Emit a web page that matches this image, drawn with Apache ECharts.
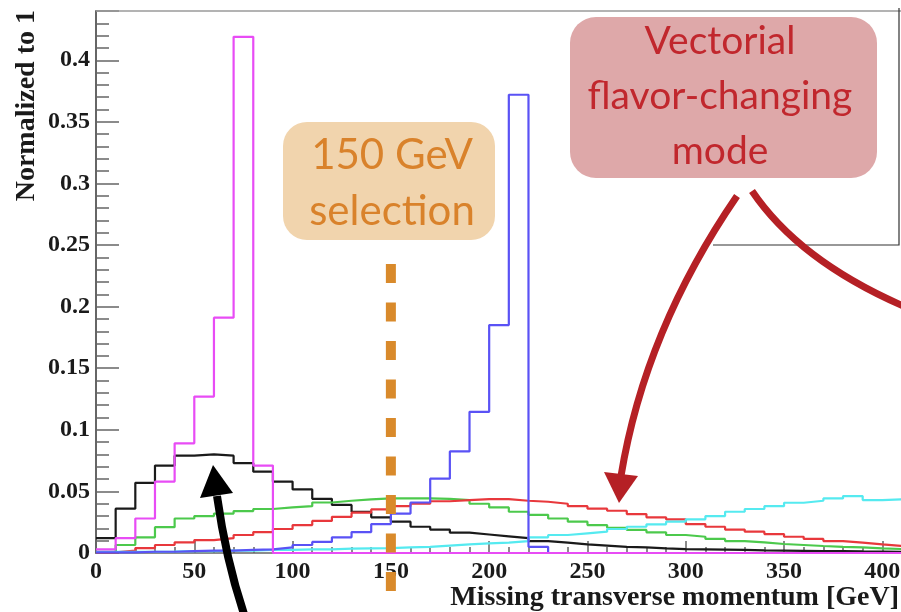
<!DOCTYPE html>
<html><head><meta charset="utf-8">
<script src="https://cdn.jsdelivr.net/npm/echarts@6/dist/echarts.min.js"></script>
<style>html,body{margin:0;padding:0;background:#fff}#c{width:901px;height:612px}</style>
</head><body><div id="c"></div>
<script>
// Bin low edges (GeV), bin width 10, last entry is the upper edge of the final bin
const binEdges = [0,10,20,30,40,50,60,70,80,90,100,110,120,130,140,150,160,170,180,190,200,
  210,220,230,240,250,260,270,280,290,300,310,320,330,340,350,360,370,380,390,400,410];

const xTicks = [0,50,100,150,200,250,300,350,400];
const yTicks = [0,0.05,0.1,0.15,0.2,0.25,0.3,0.35,0.4];

const blackVals = [0.012,0.036,0.057,0.071,0.079,0.080,0.079,0.073,0.066,0.058,
  0.0516,0.044,0.039,0.0335,0.029,0.0254,0.0213,0.019,0.0165,0.015,
  0.0135,0.012,0.0097,0.0084,0.007,0.006,0.005,0.0046,0.0038,0.0032,
  0.003,0.0028,0.0025,0.0022,0.002,0.0018,0.0016,0.0015,0.0013,0.0012,0.001];
const greenVals = [0.001,0.0065,0.0127,0.021,0.028,0.030,0.032,0.034,0.0357,0.037,
  0.038,0.041,0.0424,0.0435,0.0443,0.0443,0.0443,0.044,0.043,0.040,
  0.037,0.0335,0.031,0.028,0.0254,0.0227,0.0205,0.0187,0.0168,0.0146,
  0.0132,0.0114,0.0097,0.0087,0.0073,0.0065,0.0057,0.005,0.0046,0.0038,0.0032];
const redVals = [0.0005,0.002,0.004,0.0065,0.0087,0.0105,0.012,0.0146,0.017,0.0195,
  0.0227,0.026,0.0294,0.0327,0.0354,0.038,0.040,0.042,0.043,0.0438,
  0.0438,0.0424,0.0416,0.040,0.038,0.036,0.0343,0.0316,0.029,0.0273,
  0.0235,0.0213,0.019,0.0173,0.0154,0.0132,0.0114,0.0097,0.0084,0.007,0.0057];
const cyanVals = [0.001,0.001,0.001,0.0012,0.0015,0.0015,0.002,0.002,0.0025,0.0025,
  0.003,0.003,0.0035,0.0038,0.004,0.0045,0.005,0.006,0.007,0.0078,
  0.0085,0.0097,0.0127,0.0146,0.016,0.0173,0.0195,0.0213,0.0233,0.0254,
  0.0273,0.030,0.0335,0.0357,0.038,0.0408,0.0424,0.0443,0.0462,0.043,0.0435];
const blueVals = [0.0005,0.0005,0.001,0.001,0.0015,0.002,0.002,0.0025,0.003,0.0046,
  0.0065,0.009,0.0127,0.017,0.0235,0.032,0.041,0.0603,0.0825,0.1146,
  0.185,0.372,0.005,0,0,0,0,0,0,0,
  0,0,0,0,0,0,0,0,0,0,0];
const magentaVals = [0.003,0.012,0.028,0.058,0.089,0.127,0.191,0.419,0.071,0,
  0,0,0,0,0,0,0,0,0,0,
  0,0,0,0,0,0,0,0,0,0,
  0,0,0,0,0,0,0,0,0,0,0];

const selectionCut = 150;

function histPoints(vals){
  const pts = vals.map((v,i)=>[binEdges[i], v]);
  pts.push([binEdges[vals.length], vals[vals.length-1]]);
  return pts;
}
function hist(name, vals, color){
  return {name, type:'line', step:'end', data:histPoints(vals), showSymbol:false,
    symbol:'none', lineStyle:{color, width:2.2}, itemStyle:{color}, silent:true, z:3};
}

const chart = echarts.init(document.getElementById('c'), null, {renderer:'canvas'});
const serif = '"Liberation Serif","DejaVu Serif",serif';
const axisGray = '#666';

chart.setOption({
  animation:false,
  backgroundColor:'#fff',
  grid:{left:96, top:11, width:806, bottom:59, containLabel:false, outerBoundsMode:'none'},
  xAxis:{
    type:'value', min:0, max:410, interval:50,
    axisLine:{show:true, onZero:false, lineStyle:{color:axisGray, width:1.5}},
    axisTick:{show:true, inside:true, length:12, lineStyle:{color:axisGray, width:1.5}},
    minorTick:{show:true, splitNumber:5, length:6, lineStyle:{color:axisGray, width:1.5}},
    splitLine:{show:false},
    axisLabel:{fontFamily:serif, fontWeight:'bold', fontSize:24, color:'#1a1a1a', margin:7,
      showMaxLabel:false,
      formatter:v=> xTicks.indexOf(v)>=0 ? String(v) : ''}
  },
  yAxis:{
    type:'value', min:0, max:0.44, interval:0.05,
    axisLine:{show:true, lineStyle:{color:axisGray, width:2}},
    axisTick:{show:true, inside:true, length:23, lineStyle:{color:axisGray, width:1.5}},
    minorTick:{show:true, splitNumber:5, length:13, lineStyle:{color:axisGray, width:1.5}},
    splitLine:{show:false},
    axisLabel:{fontFamily:serif, fontWeight:'bold', fontSize:24, color:'#1a1a1a', margin:6,
      showMaxLabel:false,
      formatter:v=>{ const r = Math.round(v*100)/100; return yTicks.indexOf(r)>=0 ? String(r) : ''; }}
  },
  series:[
    hist('black', blackVals, '#1a1a1a'),
    hist('green', greenVals, '#4cc94c'),
    hist('red', redVals, '#e8383c'),
    hist('cyan', cyanVals, '#55eaf0'),
    hist('blue', blueVals, '#5a52f5'),
    hist('magenta', magentaVals, '#e84cf5')
  ]
});

const cutX = chart.convertToPixel({xAxisIndex:0}, selectionCut);

chart.setOption({
  graphic:[
    // top frame line
    {type:'line', z:2, shape:{x1:96, y1:11, x2:901, y2:11},
      style:{stroke:'#9a9a9a', lineWidth:1.5}},
    // axis titles
    {type:'text', x:27, y:10, rotation:Math.PI/2, z:10,
      style:{text:'Normalized to 1', fontFamily:serif, fontWeight:'bold', fontSize:28,
        fill:'#1a1a1a', align:'right', verticalAlign:'middle'}},
    {type:'text', x:899, y:598, z:10,
      style:{text:'Missing transverse momentum [GeV]', fontFamily:serif, fontWeight:'bold', fontSize:28,
        fill:'#1a1a1a', align:'right', verticalAlign:'middle'}},
    // legend box remnants
    {type:'polyline', z:2, shape:{points:[[713,245],[899,245],[899,8]]},
      style:{stroke:'#333', lineWidth:1.2, fill:null}},
    // 150 GeV selection dashed line
    {type:'line', z:20, shape:{x1:cutX, y1:264, x2:cutX, y2:592},
      style:{stroke:'#d98a2b', lineWidth:10, lineDash:[19,19.5]}},
    // orange label box
    {type:'rect', z:20, shape:{x:283, y:122, width:212, height:118, r:24},
      style:{fill:'#f1d4ad'}},
    {type:'text', z:21, x:392, y:183,
      style:{text:'150 GeV\nselection', fontFamily:'Lato', fontSize:42, lineHeight:56,
        fill:'#d9822b', align:'center', verticalAlign:'middle'}},
    // red label box
    {type:'rect', z:20, shape:{x:570, y:17, width:307, height:161, r:26},
      style:{fill:'#dea8a9'}},
    {type:'text', z:21, x:720, y:96,
      style:{text:'Vectorial\nflavor-changing\nmode', fontFamily:'Lato', fontSize:39, lineHeight:55,
        fill:'#c1272d', align:'center', verticalAlign:'middle'}},
    // red arrows
    {type:'bezierCurve', z:22, shape:{x1:737, y1:196, cpx1:645, cpy1:330, x2:621, y2:476},
      style:{stroke:'#b52025', lineWidth:7, fill:null}},
    {type:'polygon', z:22, shape:{points:[[604,472],[638,476],[619,503]]},
      style:{fill:'#b52025'}},
    {type:'bezierCurve', z:22, shape:{x1:752, y1:191, cpx1:800, cpy1:262, x2:908, y2:308},
      style:{stroke:'#b52025', lineWidth:7, fill:null}},
    // black arrow
    {type:'bezierCurve', z:22, shape:{x1:244, y1:614, cpx1:226, cpy1:560, x2:217, y2:496},
      style:{stroke:'#000', lineWidth:8, fill:null}},
    {type:'polygon', z:22, shape:{points:[[200,498],[233,493],[213,465]]},
      style:{fill:'#000'}}
  ]
});
</script></body></html>
